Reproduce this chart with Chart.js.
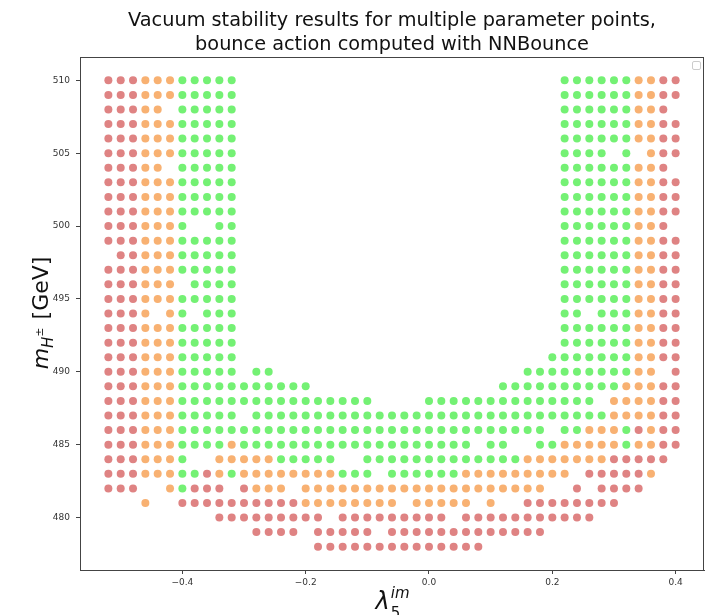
<!DOCTYPE html>
<html>
  <head>
    <title>Vacuum stability scan</title>
    <script src="https://cdn.jsdelivr.net/npm/chart.js@4.4.0/dist/chart.umd.min.js"></script>
    <style>
      body { margin: 0; background: #fff; }
    </style>
  </head>
  <body>
    <canvas id="canvas" width="720" height="615"></canvas>
    <script>
      // lambda_5^im columns of the scan
      const lambdaValues = [
        -0.52, -0.50, -0.48, -0.46, -0.44, -0.42, -0.40, -0.38, -0.36, -0.34,
        -0.32, -0.30, -0.28, -0.26, -0.24, -0.22, -0.20, -0.18, -0.16, -0.14,
        -0.12, -0.10, -0.08, -0.06, -0.04, -0.02, 0.00, 0.02, 0.04, 0.06,
        0.08, 0.10, 0.12, 0.14, 0.16, 0.18, 0.20, 0.22, 0.24, 0.26,
        0.28, 0.30, 0.32, 0.34, 0.36, 0.38, 0.40,
      ];
      // m_H+- rows, top to bottom
      const massValues = [
        510, 509, 508, 507, 506, 505, 504, 503, 502, 501, 500,
        499, 498, 497, 496, 495, 494, 493, 492, 491, 490,
        489, 488, 487, 486, 485, 484, 483, 482, 481, 480, 479, 478,
      ];
      // per row: runs [first column, last column, result]
      // u = red, m = orange, s = green
      const stabilityRuns = [
        [[0, 2, 'u'], [3, 5, 'm'], [6, 10, 's'], [37, 42, 's'], [43, 44, 'm'], [45, 46, 'u']],
        [[0, 2, 'u'], [3, 5, 'm'], [6, 10, 's'], [37, 42, 's'], [43, 44, 'm'], [45, 46, 'u']],
        [[0, 2, 'u'], [3, 4, 'm'], [6, 10, 's'], [37, 42, 's'], [43, 44, 'm'], [45, 45, 'u']],
        [[0, 2, 'u'], [3, 5, 'm'], [6, 10, 's'], [37, 42, 's'], [43, 44, 'm'], [45, 46, 'u']],
        [[0, 2, 'u'], [3, 5, 'm'], [6, 10, 's'], [37, 42, 's'], [43, 44, 'm'], [45, 46, 'u']],
        [[0, 2, 'u'], [3, 5, 'm'], [6, 10, 's'], [37, 40, 's'], [42, 42, 's'], [44, 44, 'm'], [45, 46, 'u']],
        [[0, 2, 'u'], [3, 4, 'm'], [6, 10, 's'], [37, 42, 's'], [43, 44, 'm'], [45, 45, 'u']],
        [[0, 2, 'u'], [3, 5, 'm'], [6, 10, 's'], [37, 42, 's'], [43, 44, 'm'], [45, 46, 'u']],
        [[0, 2, 'u'], [3, 5, 'm'], [6, 10, 's'], [37, 42, 's'], [43, 44, 'm'], [45, 46, 'u']],
        [[0, 2, 'u'], [3, 5, 'm'], [6, 10, 's'], [37, 42, 's'], [43, 44, 'm'], [45, 46, 'u']],
        [[0, 2, 'u'], [3, 5, 'm'], [6, 6, 's'], [9, 10, 's'], [37, 42, 's'], [43, 44, 'm'], [45, 45, 'u']],
        [[0, 2, 'u'], [3, 5, 'm'], [6, 10, 's'], [37, 42, 's'], [43, 44, 'm'], [45, 46, 'u']],
        [[1, 2, 'u'], [3, 5, 'm'], [6, 10, 's'], [37, 42, 's'], [43, 44, 'm'], [45, 46, 'u']],
        [[0, 2, 'u'], [3, 5, 'm'], [6, 10, 's'], [37, 42, 's'], [43, 44, 'm'], [45, 46, 'u']],
        [[0, 2, 'u'], [3, 5, 'm'], [7, 10, 's'], [37, 42, 's'], [43, 44, 'm'], [45, 46, 'u']],
        [[0, 2, 'u'], [3, 5, 'm'], [6, 10, 's'], [37, 42, 's'], [43, 44, 'm'], [45, 46, 'u']],
        [[0, 2, 'u'], [3, 3, 'm'], [5, 5, 'm'], [6, 6, 's'], [8, 10, 's'], [37, 38, 's'], [40, 42, 's'], [43, 44, 'm'], [45, 46, 'u']],
        [[0, 2, 'u'], [3, 5, 'm'], [6, 10, 's'], [37, 42, 's'], [43, 44, 'm'], [45, 46, 'u']],
        [[0, 2, 'u'], [3, 5, 'm'], [6, 10, 's'], [37, 42, 's'], [43, 44, 'm'], [45, 46, 'u']],
        [[0, 2, 'u'], [3, 5, 'm'], [6, 10, 's'], [36, 42, 's'], [43, 44, 'm'], [45, 46, 'u']],
        [[0, 2, 'u'], [3, 5, 'm'], [6, 10, 's'], [12, 13, 's'], [34, 42, 's'], [43, 44, 'm'], [46, 46, 'u']],
        [[0, 2, 'u'], [3, 5, 'm'], [6, 16, 's'], [32, 41, 's'], [42, 44, 'm'], [45, 46, 'u']],
        [[0, 2, 'u'], [3, 5, 'm'], [6, 21, 's'], [26, 39, 's'], [41, 44, 'm'], [45, 46, 'u']],
        [[0, 2, 'u'], [3, 5, 'm'], [6, 10, 's'], [12, 40, 's'], [41, 44, 'm'], [45, 46, 'u']],
        [[0, 2, 'u'], [3, 5, 'm'], [6, 35, 's'], [37, 38, 's'], [39, 41, 'm'], [42, 42, 's'], [43, 43, 'u'], [44, 44, 'm'], [45, 46, 'u']],
        [[0, 2, 'u'], [3, 5, 'm'], [6, 9, 's'], [10, 10, 'm'], [11, 29, 's'], [31, 32, 's'], [35, 36, 's'], [37, 41, 'm'], [42, 42, 's'], [43, 44, 'm'], [45, 46, 'u']],
        [[0, 2, 'u'], [3, 5, 'm'], [6, 6, 's'], [9, 13, 'm'], [14, 18, 's'], [21, 33, 's'], [34, 40, 'm'], [41, 45, 'u']],
        [[0, 2, 'u'], [3, 5, 'm'], [6, 7, 's'], [8, 8, 'u'], [9, 9, 'm'], [10, 10, 's'], [11, 18, 'm'], [19, 21, 's'], [23, 28, 's'], [29, 37, 'm'], [39, 43, 'u'], [44, 44, 'm']],
        [[0, 2, 'u'], [5, 5, 'm'], [6, 6, 's'], [7, 9, 'u'], [11, 11, 'u'], [12, 14, 'm'], [16, 35, 'm'], [38, 38, 'u'], [40, 43, 'u']],
        [[3, 3, 'm'], [6, 15, 'u'], [16, 23, 'm'], [25, 29, 'm'], [31, 31, 'm'], [34, 41, 'u']],
        [[9, 17, 'u'], [19, 27, 'u'], [29, 39, 'u']],
        [[12, 15, 'u'], [17, 21, 'u'], [23, 35, 'u']],
        [[17, 30, 'u']],
      ];
      const xTicks = [-0.4, -0.2, 0.0, 0.2, 0.4];
      const xTickLabels = ['\u22120.4', '\u22120.2', '0.0', '0.2', '0.4'];
      const yTicks = [480, 485, 490, 495, 500, 505, 510];

      const colors = { u: '#df8383', m: '#f8b172', s: '#74f174' };

      const points = { u: [], m: [], s: [] };
      stabilityRuns.forEach((runs, row) => {
        runs.forEach(([from, to, code]) => {
          for (let i = from; i <= to; i++) {
            points[code].push({ x: lambdaValues[i], y: massValues[row] });
          }
        });
      });

      const FONT = '"DejaVu Sans", sans-serif';

      // frame, titles, axis labels and the empty legend box
      const decorations = {
        id: 'decorations',
        afterDraw(chart) {
          const c = chart.ctx;
          const a = chart.chartArea;
          c.save();
          c.strokeStyle = '#444';
          c.lineWidth = 1;
          c.strokeRect(a.left + 0.5, a.top + 0.5, a.right - a.left - 1, a.bottom - a.top);

          const cx = (a.left + a.right) / 2;
          c.fillStyle = '#111';
          c.textAlign = 'center';
          c.textBaseline = 'middle';
          c.font = '19.3px ' + FONT;
          c.fillText('Vacuum stability results for multiple parameter points,', cx, 21);
          c.fillText('bounce action computed with NNBounce', cx, 45);

          // y label: m_{H^±} [GeV]
          c.save();
          c.translate(40, (a.top + a.bottom) / 2);
          c.rotate(-Math.PI / 2);
          c.textAlign = 'left';
          c.textBaseline = 'alphabetic';
          const big = '22px ' + FONT, bigIt = 'italic 22px ' + FONT;
          const sub = 'italic 15px ' + FONT, tiny = '11px ' + FONT;
          c.font = bigIt; const wm = c.measureText('m').width;
          c.font = sub; const wh = c.measureText('H').width;
          c.font = tiny; const wpm = c.measureText('\u00b1').width;
          c.font = big; const wg = c.measureText(' [GeV]').width;
          let x = -(wm + wh + wpm + wg) / 2;
          const base = 8;
          c.font = bigIt; c.fillText('m', x, base); x += wm;
          c.font = sub; c.fillText('H', x, base + 5); x += wh;
          c.font = tiny; c.fillText('\u00b1', x, base - 5); x += wpm;
          c.font = big; c.fillText(' [GeV]', x + 1, base);
          c.restore();

          // x label: lambda_5^im
          c.textAlign = 'left';
          c.textBaseline = 'alphabetic';
          c.font = 'italic 24px ' + FONT;
          const wl = c.measureText('\u03bb').width;
          c.font = 'italic 15px ' + FONT;
          const wi = c.measureText('im').width;
          let lx = cx - (wl + wi) / 2;
          c.font = 'italic 24px ' + FONT;
          c.fillText('\u03bb', lx, 609);
          lx += wl + 1;
          c.font = 'italic 15px ' + FONT;
          c.fillText('im', lx, 598);
          c.font = '15px ' + FONT;
          c.fillText('5', lx, 618);

          // empty legend
          c.fillStyle = '#fff';
          c.strokeStyle = '#ccc';
          c.beginPath();
          c.roundRect(692.5, 61.5, 8, 8, 1.5);
          c.fill();
          c.stroke();
          c.restore();
        },
      };

      const tickFont = { family: FONT, size: 9 };
      const ctx = document.getElementById('canvas').getContext('2d');
      new Chart(ctx, {
        type: 'scatter',
        data: {
          datasets: [
            { label: 'red', data: points.u, backgroundColor: colors.u },
            { label: 'orange', data: points.m, backgroundColor: colors.m },
            { label: 'green', data: points.s, backgroundColor: colors.s },
          ],
        },
        options: {
          responsive: false,
          animation: false,
          devicePixelRatio: 1,
          layout: { padding: { left: 0, right: 16, top: 57, bottom: 0 } },
          elements: { point: { radius: 4, hoverRadius: 4, borderWidth: 0 } },
          plugins: { legend: { display: false }, tooltip: { enabled: false } },
          scales: {
            x: {
              type: 'linear',
              min: -0.566,
              max: 0.446,
              afterBuildTicks: (s) => { s.ticks = xTicks.map((v) => ({ value: v })); },
              afterFit: (s) => { s.height = 45; },
              ticks: {
                callback: (v, i) => xTickLabels[i],
                font: tickFont, color: '#333', padding: 3,
                maxRotation: 0, autoSkip: false,
              },
              grid: { drawOnChartArea: false, tickLength: 4, color: '#444' },
              border: { color: '#444' },
            },
            y: {
              type: 'linear',
              min: 476.4,
              max: 511.6,
              afterBuildTicks: (s) => { s.ticks = yTicks.map((v) => ({ value: v })); },
              afterFit: (s) => { s.width = 80; },
              ticks: { font: tickFont, color: '#333', padding: 6, autoSkip: false },
              grid: { drawOnChartArea: false, tickLength: 4, color: '#444' },
              border: { color: '#444' },
            },
          },
        },
        plugins: [decorations],
      });
    </script>
  </body>
</html>
